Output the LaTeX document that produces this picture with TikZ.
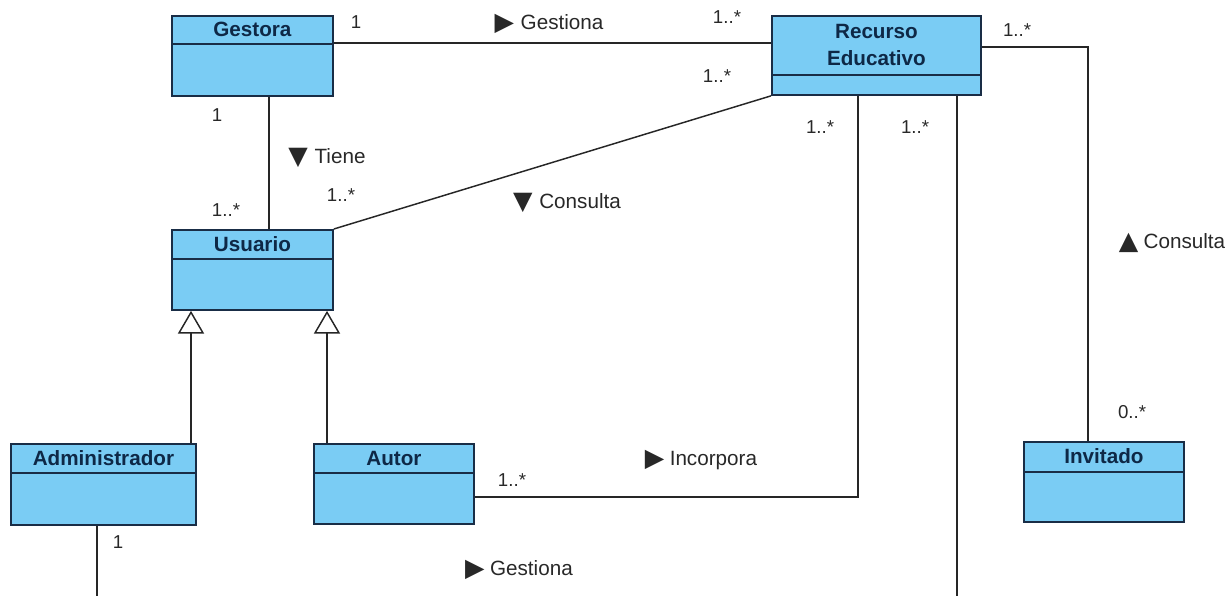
\documentclass[tikz,border=0pt]{standalone}
\usepackage{fontspec}
\setmainfont{Liberation Sans}
\newfontfamily\symfont{DejaVu Sans}
\usetikzlibrary{arrows.meta,calc}
\definecolor{boxblue}{RGB}{122,204,244}
\definecolor{boxline}{RGB}{25,45,70}
\definecolor{titlecol}{RGB}{14,40,70}
\definecolor{labcol}{RGB}{40,40,40}
\newcommand{\tri}[1]{{\symfont\fontsize{19pt}{19pt}\selectfont\raisebox{-1pt}{#1}}}
\tikzset{
  classbox/.style={draw=boxline, fill=boxblue, line width=1.4pt, inner sep=0pt, anchor=north west},
  divline/.style={draw=boxline, line width=1.4pt},
  classtitle/.style={font=\fontsize{15.5pt}{20pt}\selectfont\bfseries, text=titlecol, align=center, inner sep=0pt},
  assoc/.style={draw=black!85, line width=1.1pt},
  gener/.style={draw=black!85, line width=1.1pt, -{Triangle[open, length=17pt, width=19.5pt, line width=1.1pt]}},
  lab/.style={font=\fontsize{15.5pt}{16pt}\selectfont, text=labcol, inner sep=0pt},
  mult/.style={font=\fontsize{14pt}{15pt}\selectfont, text=labcol, inner sep=0pt},
}
\newcommand{\umlclass}[7]{% name, x, y, w, h, divider offset, title
  \node[classbox, minimum width=#4*0.75pt, minimum height=#5*0.75pt] (#1) at (#2,#3) {};
  \draw[divline] ([yshift=-#6*0.75pt]#1.north west) -- ([yshift=-#6*0.75pt]#1.north east);
  \node[classtitle] (#1-title) at ([yshift=-#6*0.375pt]#1.north) {#7};
}
\begin{document}
\begin{tikzpicture}[x=0.75pt, y=-0.75pt]
\useasboundingbox (0,0) rectangle (1232,596);

% classes
\umlclass{gestora}{171}{15}{161}{80}{29}{Gestora}
\umlclass{recurso}{771}{15}{209}{79}{60}{Recurso\\Educativo}
\umlclass{usuario}{171}{229}{161}{80}{30}{Usuario}
\umlclass{admin}{10}{443}{185}{81}{30}{Administrador}
\umlclass{autor}{313}{443}{160}{80}{30}{Autor}
\umlclass{invitado}{1023}{441}{160}{80}{31}{Invitado}

% associations
\draw[assoc] (gestora.east |- 0,43) -- (recurso.west |- 0,43);
\draw[assoc] (gestora.south -| 269,0) -- (usuario.north -| 269,0);
\draw[assoc] (usuario.north east) -- (recurso.south west);
\draw[assoc] (recurso.south -| 858,0) |- (autor.east |- 0,497);
\draw[assoc] (recurso.east |- 0,47) -| (invitado.north -| 1088,0);
\coordinate (gbot) at (957,605);
\draw[assoc] (recurso.south -| 957,0) -- (gbot) -| (admin.south -| 97,0);

% generalizations
\draw[gener] (admin.north -| 191,0) -- (usuario.south -| 191,0);
\draw[gener] (autor.north -| 327,0) -- (usuario.south -| 327,0);

% association labels
\node[lab] (lgest1) at (549,24) {\tri{▶}\hspace{5pt}Gestiona};
\node[lab] (ltiene) at (327,158) {\tri{▼}\hspace{5pt}Tiene};
\node[lab] (lcons1) at (567,203) {\tri{▼}\hspace{5pt}Consulta};
\node[lab] (lcons2) at (1172,243) {\tri{▲}\hspace{4pt}Consulta};
\node[lab] (linc) at (701,460) {\tri{▶}\hspace{4pt}Incorpora};
\node[lab] (lgest2) at (519,570) {\tri{▶}\hspace{4pt}Gestiona};

% multiplicities
\node[mult] (m1) at (356,22) {1};
\node[mult] (m2) at (727,17) {1..*};
\node[mult] (m3) at (217,115) {1};
\node[mult] (m4) at (226,210) {1..*};
\node[mult] (m5) at (341,195) {1..*};
\node[mult] (m6) at (717,76) {1..*};
\node[mult] (m7) at (820,127) {1..*};
\node[mult] (m8) at (915,127) {1..*};
\node[mult] (m9) at (1017,30) {1..*};
\node[mult] (m10) at (1132,412) {0..*};
\node[mult] (m11) at (512,480) {1..*};
\node[mult] (m12) at (118,542) {1};
\end{tikzpicture}
\end{document}
